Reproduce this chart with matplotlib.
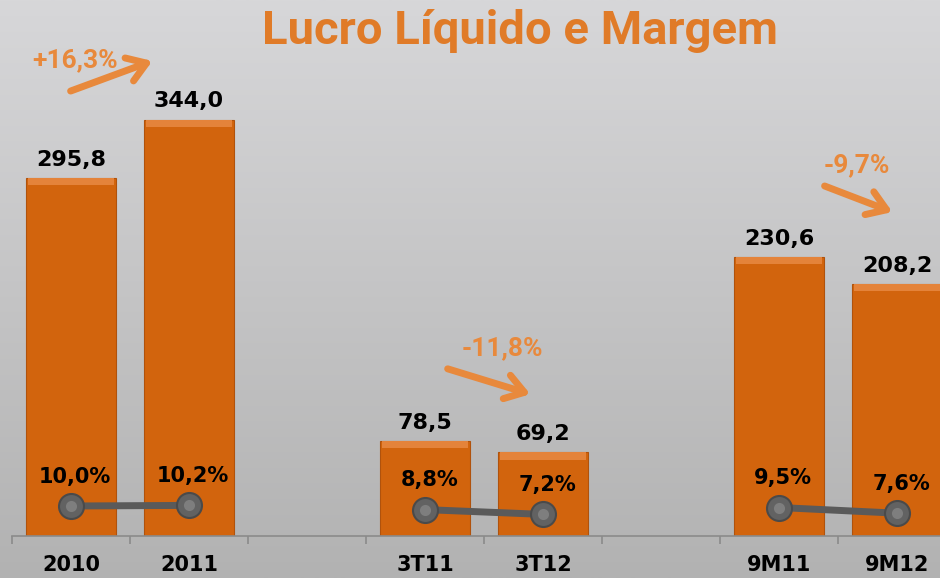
import numpy as np
import matplotlib
matplotlib.use('Agg')
import matplotlib.pyplot as plt

# dados do grafico
periodos = ['2010', '2011', '3T11', '3T12', '9M11', '9M12']
lucro = [295.8, 344.0, 78.5, 69.2, 230.6, 208.2]
margem = [10.0, 10.2, 8.8, 7.2, 9.5, 7.6]
variacao = ['+16,3%', '-11,8%', '-9,7%']

LARANJA = '#D2640D'
LARANJA_CLARO = '#E8893C'
TITULO = '#E07B28'


def fmt(v):
  return '{:.1f}'.format(v).replace('.', ',')


def main():
  plt.rcParams['font.family'] = ['DejaVu Sans']
  fig = plt.figure(figsize=(9.4, 5.78), dpi=100)

  # fundo em degrade cinza
  bg = fig.add_axes([0, 0, 1, 1], zorder=-5)
  grad = np.linspace(0, 1, 256).reshape(-1, 1)
  cmap = matplotlib.colors.LinearSegmentedColormap.from_list('bg', ['#d7d7d9', '#b2b2b2'])
  bg.imshow(grad, aspect='auto', cmap=cmap, extent=[0, 1, 0, 1], origin='upper')
  bg.axis('off')

  # posicoes: pares com espaco vazio entre eles
  x = [i + i // 2 for i in range(len(periodos))]

  ax = fig.add_axes([12 / 940, 42 / 578, 944 / 940, 496 / 578])
  ax.patch.set_alpha(0)
  ax.set_xlim(-0.5, 7.5)
  ax.set_ylim(0, 496 / 1.21)

  w = 0.76
  ax.bar(x, lucro, width=w, color=LARANJA, edgecolor='#B0520C', linewidth=0.8, zorder=2)
  # chanfro claro no topo das barras
  bev = [6.0] * len(lucro)
  ax.bar(x, bev, bottom=[v - b for v, b in zip(lucro, bev)], width=w * 0.97,
         color='#E4833A', linewidth=0, zorder=3)
  for xi, v in zip(x, lucro):
    ax.annotate(fmt(v), (xi, v), xytext=(0, 6), textcoords='offset points',
                ha='center', va='bottom', fontsize=16, fontweight='bold', color='black')

  for s in ['top', 'right', 'left']:
    ax.spines[s].set_visible(False)
  ax.spines['bottom'].set_color('#8a8a8a')
  ax.spines['bottom'].set_linewidth(1.2)
  ax.set_yticks([])
  ax.set_xticks(range(8))
  labels = [''] * 8
  for xi, p in zip(x, periodos):
    labels[xi] = p
  ax.set_xticklabels(labels, fontsize=15, fontweight='bold')
  ax.tick_params(axis='x', which='major', length=0, pad=14)
  ax.set_xticks(np.arange(-0.5, 8, 1), minor=True)
  ax.tick_params(axis='x', which='minor', length=6, color='#8a8a8a', width=1.2)

  # margem no eixo secundario
  ax2 = ax.twinx()
  ax2.set_ylim(0, 496 / 3.0)
  ax2.axis('off')
  for k in range(0, len(x), 2):
    xs = x[k:k + 2]
    ms = margem[k:k + 2]
    ax2.plot(xs, ms, color='#5a5a5a', lw=5, zorder=4, solid_capstyle='butt')
    ax2.plot(xs, ms, 'o', ms=18, mfc='#626262', mec='#4a4a4a', mew=1.5, zorder=5)
    ax2.plot(xs, ms, 'o', ms=8, mfc='#8a8a8a', mec='none', zorder=6, alpha=0.7)
  for xi, m in zip(x, margem):
    ax2.annotate(fmt(m) + '%', (xi, m), xytext=(3, 21), textcoords='offset points',
                 ha='center', va='center', fontsize=15, fontweight='bold', color='black')

  # setas de variacao (posicoes em pixels da figura)
  setas = [((75, 60), (68, 92), (155, 60)),
           ((502, 348), (445, 368), (533, 395)),
           ((857, 165), (822, 185), (895, 213))]
  H = 578.0
  for txt, (tp, a, b) in zip(variacao, setas):
    fig.text(tp[0] / 940, 1 - tp[1] / H, txt, ha='center', va='center',
             fontsize=19, fontweight='bold', color=LARANJA_CLARO, family='Roboto')
    fig.add_artist(matplotlib.patches.FancyArrowPatch(
      (a[0] / 940, 1 - a[1] / H), (b[0] / 940, 1 - b[1] / H),
      transform=fig.transFigure, arrowstyle='->,head_length=0.6,head_width=0.4',
      mutation_scale=22, lw=5, color=LARANJA_CLARO))

  fig.text(520 / 940, 1 - 31 / H, 'Lucro Líquido e Margem', ha='center', va='center',
           fontsize=34, fontweight='bold', color=TITULO, family='Roboto')

  fig.savefig('out.png', dpi=100)


if __name__ == '__main__':
  main()
